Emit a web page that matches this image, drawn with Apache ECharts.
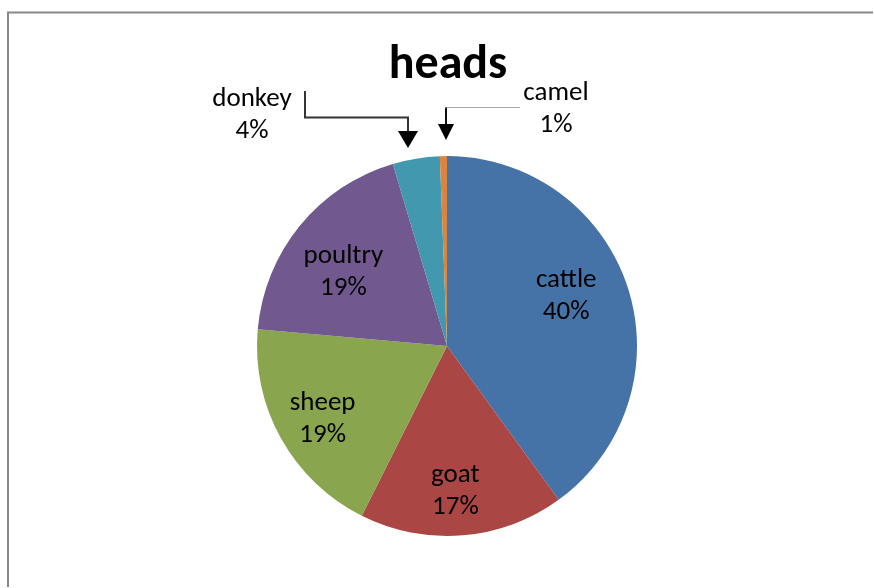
<!DOCTYPE html>
<html><head><meta charset="utf-8">
<script src="https://cdn.jsdelivr.net/npm/echarts@6/dist/echarts.min.js"></script>
<style>html,body{margin:0;padding:0;background:#fff}#c{width:874px;height:588px}</style>
</head><body><div id="c"></div>
<script>
const categories = ['cattle','goat','sheep','poultry','donkey','camel'];
const values = [40, 17.4, 19, 19, 4, 0.6];
const pctLabels = ['40%','17%','19%','19%','4%','1%'];
const colors = ['#4572A7','#AA4643','#89A54E','#71588F','#4198AF','#DB843D'];
const titleText = 'heads';

const FONT = 'Carlito, Lato, sans-serif';
const center = [447, 346];
const R = 190;

const pieData = categories.map((c, i) => ({ name: c, value: values[i], itemStyle: { color: colors[i] } }));
const outsideIdx = { 4: [252, 115], 5: [556, 109] };
const labelShift = { 0: [-13, -7], 1: [-3, 7], 2: [-3, 6], 3: [4, 14] };
const labelData = categories.map((c, i) => ({
  name: c, value: values[i],
  label: outsideIdx[i] ? { position: 'outside' } : { position: 'inside' },
  labelLine: { show: false }
}));

const chart = echarts.init(document.getElementById('c'));
chart.setOption({
  backgroundColor: '#fff',
  animation: false,
  title: { text: titleText, left: 443, top: 37, textAlign: 'center',
    textStyle: { fontFamily: FONT, fontSize: 48, fontWeight: 'bold', color: '#000' } },
  graphic: [
    { type: 'polyline', shape: { points: [[8, 587], [8, 12.5], [873, 12.5]] }, style: { stroke: '#888', lineWidth: 2, fill: null } },
    { type: 'polyline', shape: { points: [[305, 91], [305, 117.5], [408, 117.5], [408, 134]] }, style: { stroke: '#333', lineWidth: 2, fill: null } },
    { type: 'polygon', shape: { points: [[398, 131], [418, 131], [408, 148]] }, style: { fill: '#000' } },
    { type: 'polyline', shape: { points: [[520, 107.5], [446, 107.5]] }, style: { stroke: '#aaa', lineWidth: 1, fill: null } },
    { type: 'polyline', shape: { points: [[446, 107.5], [446, 127]] }, style: { stroke: '#111', lineWidth: 2, fill: null } },
    { type: 'polygon', shape: { points: [[438, 124], [454, 124], [446, 140]] }, style: { fill: '#000' } }
  ],
  series: [
    { type: 'pie', center: center, radius: [0, R], startAngle: 90, clockwise: true,
      silent: true, label: { show: false }, labelLine: { show: false }, data: pieData },
    { type: 'pie', center: center, radius: [82, R], startAngle: 90, clockwise: true,
      silent: true, itemStyle: { color: 'rgba(0,0,0,0)' },
      label: { show: true, fontFamily: FONT, fontSize: 27, color: '#000', lineHeight: 32, align: 'center',
        formatter: p => p.name + '\n' + pctLabels[p.dataIndex] },
      labelLine: { show: false },
      labelLayout: p => {
        const pos = outsideIdx[p.dataIndex];
        if (pos) return { x: pos[0], y: pos[1], align: 'center', verticalAlign: 'middle' };
        const s = labelShift[p.dataIndex];
        return s ? { dx: s[0], dy: s[1] } : {};
      },
      data: labelData }
  ]
});
</script></body></html>
